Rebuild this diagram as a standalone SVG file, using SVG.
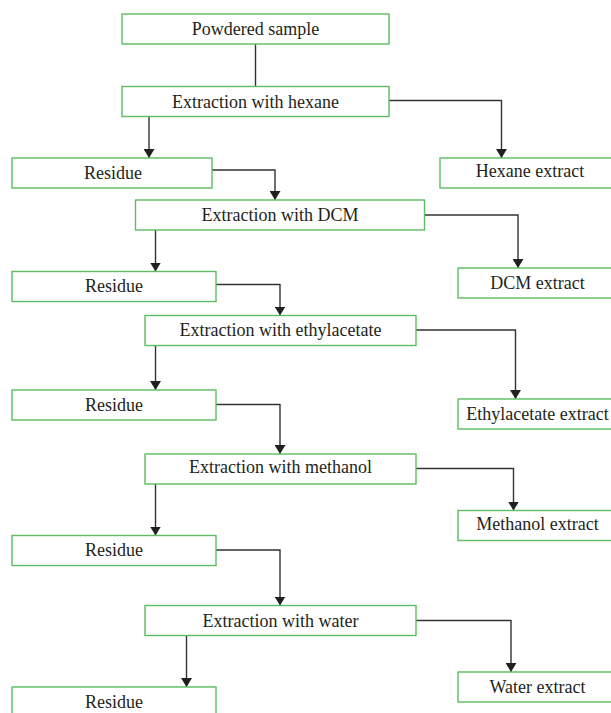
<svg xmlns="http://www.w3.org/2000/svg" width="611" height="713" viewBox="0 0 611 713">
<style>
.box{fill:#ffffff;stroke:#5cbd62;stroke-width:1.4}
.lbl{font-family:"Liberation Serif","Times New Roman",serif;font-size:18px;fill:#231f20;text-anchor:middle}
.con{fill:none;stroke:#333333;stroke-width:1.4}
</style>
<defs>
<marker id="ah" markerUnits="userSpaceOnUse" markerWidth="10" markerHeight="11" refX="9" refY="5.5" orient="auto">
<path d="M0,0 L9,5.5 L0,11 z" fill="#231f20"/>
</marker>
</defs>
<rect width="611" height="713" fill="#ffffff"/>
<g id="connectors">
<path class="con" d="M255.5,44 V86.5"/>
<path class="con" d="M149,116.5 V158" marker-end="url(#ah)"/>
<path class="con" d="M389,100.5 H501.5 V158" marker-end="url(#ah)"/>
<path class="con" d="M212,170 H275 V200" marker-end="url(#ah)"/>
<path class="con" d="M155.5,230 V271.5" marker-end="url(#ah)"/>
<path class="con" d="M424.5,215 H518 V268" marker-end="url(#ah)"/>
<path class="con" d="M216,284.5 H280 V315.5" marker-end="url(#ah)"/>
<path class="con" d="M155.5,345.5 V390" marker-end="url(#ah)"/>
<path class="con" d="M416,330 H515.5 V399" marker-end="url(#ah)"/>
<path class="con" d="M216,404.5 H280 V454" marker-end="url(#ah)"/>
<path class="con" d="M155.5,484 V535.5" marker-end="url(#ah)"/>
<path class="con" d="M416,468.5 H513.5 V510.5" marker-end="url(#ah)"/>
<path class="con" d="M216,550 H280 V605.5" marker-end="url(#ah)"/>
<path class="con" d="M186.5,635.5 V687" marker-end="url(#ah)"/>
<path class="con" d="M416,620.5 H511 V672" marker-end="url(#ah)"/>
</g>
<g id="powdered"><rect class="box" x="122" y="14" width="267" height="30"/><text class="lbl" x="255.5" y="35">Powdered sample</text></g>
<g id="hexane"><rect class="box" x="122" y="86.5" width="267" height="30"/><text class="lbl" x="255.5" y="107.5">Extraction with hexane</text></g>
<g id="residue1"><rect class="box" x="12" y="158" width="200" height="30"/><text class="lbl" x="113" y="179">Residue</text></g>
<g id="hexane-extract"><rect class="box" x="440" y="158" width="180" height="30"/><text class="lbl" x="530" y="177">Hexane extract</text></g>
<g id="dcm"><rect class="box" x="135.5" y="200" width="289" height="30"/><text class="lbl" x="280" y="221">Extraction with DCM</text></g>
<g id="residue2"><rect class="box" x="12" y="271.5" width="204" height="30"/><text class="lbl" x="114" y="292">Residue</text></g>
<g id="dcm-extract"><rect class="box" x="458" y="268" width="160" height="30"/><text class="lbl" x="537.5" y="289">DCM extract</text></g>
<g id="ethylacetate"><rect class="box" x="145" y="315.5" width="271" height="30"/><text class="lbl" x="280.5" y="336">Extraction with ethylacetate</text></g>
<g id="residue3"><rect class="box" x="12" y="390" width="204" height="30"/><text class="lbl" x="114" y="411">Residue</text></g>
<g id="ethylacetate-extract"><rect class="box" x="458" y="399" width="160" height="30"/><text class="lbl" x="537.5" y="420">Ethylacetate extract</text></g>
<g id="methanol"><rect class="box" x="145" y="454" width="271" height="30"/><text class="lbl" x="280.5" y="473">Extraction with methanol</text></g>
<g id="methanol-extract"><rect class="box" x="458" y="510.5" width="160" height="30"/><text class="lbl" x="537.5" y="529.5">Methanol extract</text></g>
<g id="residue4"><rect class="box" x="12" y="535.5" width="204" height="30"/><text class="lbl" x="114" y="556">Residue</text></g>
<g id="water"><rect class="box" x="145" y="605.5" width="271" height="30"/><text class="lbl" x="280.5" y="626.5">Extraction with water</text></g>
<g id="water-extract"><rect class="box" x="458" y="672" width="160" height="30"/><text class="lbl" x="537.5" y="692.5">Water extract</text></g>
<g id="residue5"><rect class="box" x="12" y="687" width="204" height="30"/><text class="lbl" x="114" y="708">Residue</text></g>
</svg>
